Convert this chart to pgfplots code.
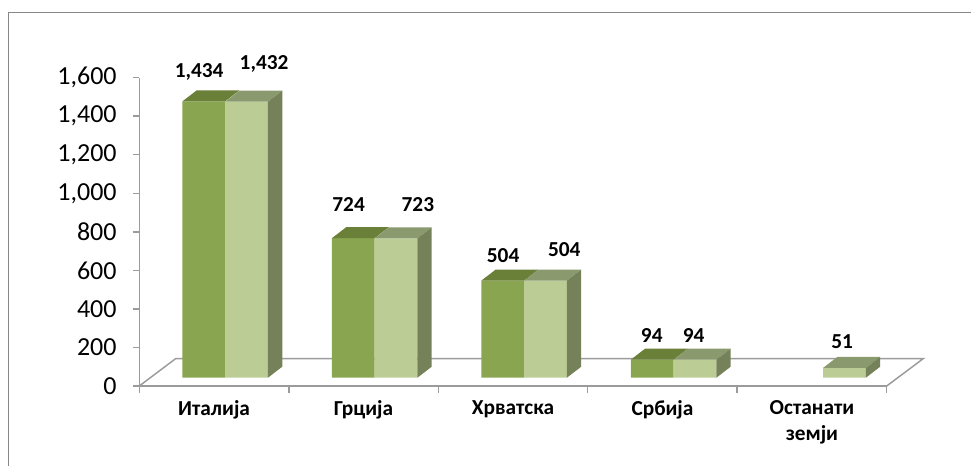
\documentclass[border=0pt]{standalone}
\usepackage{fontspec}
\setmainfont{Carlito}
\usepackage{pgfplots}
\usepackage{pgfplotstable}
\pgfplotsset{compat=1.18}

\definecolor{dfront}{RGB}{138,165,80}
\definecolor{dtop}{RGB}{106,128,56}
\definecolor{lfront}{RGB}{188,204,149}
\definecolor{ltop}{RGB}{139,154,110}
\definecolor{lside}{RGB}{117,130,89}
\definecolor{axgray}{RGB}{155,155,155}
\definecolor{framegray}{RGB}{135,135,135}

% top face of a dark bar (mark sits at the front top of the bar centre)
\pgfdeclareplotmark{darktop}{%
  \pgfsetfillcolor{dtop}%
  \pgfpathmoveto{\pgfpoint{-31.61pt}{0pt}}%
  \pgfpathlineto{\pgfpoint{0.45pt}{0pt}}%
  \pgfpathlineto{\pgfpoint{11.15pt}{8.25pt}}%
  \pgfpathlineto{\pgfpoint{-20.91pt}{8.25pt}}%
  \pgfpathclose\pgfusepath{fill}%
}
% top and side faces of a light bar; \val = bar value
\pgfdeclareplotmark{lighttop}{%
  \pgfmathsetmacro\hh{-\val*0.1445625}%
  \pgfmathsetmacro\hb{8.25-\val*0.1445625}%
  \pgfsetfillcolor{ltop}%
  \pgfpathmoveto{\pgfpoint{0.45pt}{0pt}}%
  \pgfpathlineto{\pgfpoint{32.51pt}{0pt}}%
  \pgfpathlineto{\pgfpoint{43.21pt}{8.25pt}}%
  \pgfpathlineto{\pgfpoint{11.15pt}{8.25pt}}%
  \pgfpathclose\pgfusepath{fill}%
  \pgfsetfillcolor{lside}%
  \pgfpathmoveto{\pgfpoint{32.51pt}{0pt}}%
  \pgfpathlineto{\pgfpoint{43.21pt}{8.25pt}}%
  \pgfpathlineto{\pgfpoint{43.21pt}{\hb pt}}%
  \pgfpathlineto{\pgfpoint{32.51pt}{\hh pt}}%
  \pgfpathclose\pgfusepath{fill}%
}

% x = category, v = value, lx/ly = label offset in px
\pgfplotstableread{
x v lx ly
0 1434 -4.7 31
1 724 -4.7 33.5
2 504 0.3 25.2
3 94 -0.5 24
}\darkdata
\pgfplotstableread{
x v lx ly
0 1432 17.5 38.7
1 723 21.8 33.6
2 504 18.7 31.3
3 94 -1.4 24
4 51 -2.3 26
}\lightdata

\begin{document}
\begin{tikzpicture}
\useasboundingbox (0,0) rectangle (728.25pt,349.5pt);
\draw[framegray, line width=1pt] (6.2pt,-20pt) -- (6.2pt,340.3pt) -- (760pt,340.3pt);

\pgfplotsset{
  /pgf/number format/1000 sep={,},
  /pgf/number format/assume math mode=true,
}

% main (front plane) axis with floor, ticks and labels
\begin{axis}[
  at={(104.475pt,60pt)}, anchor=south west,
  scale only axis, width=560.55pt, height=231.3pt,
  xmin=-0.5, xmax=4.5, ymin=0, ymax=1600,
  axis x line*=bottom, axis y line*=left,
  axis line style={draw=axgray, line width=1.1pt},
  tick style={draw=axgray, line width=1.1pt},
  tick align=outside,
  major tick length=5pt,
  xtick={-0.5,0.5,1.5,2.5,3.5,4.5},
  x tick label as interval,
  xticklabels={Италија,Грција,Хрватска,Србија,{Останати\\земји},{}},
  xticklabel style={font=\bfseries\fontsize{16}{19.5}\selectfont, align=center, text=black, yshift=-2.5pt},
  ytick={0,200,...,1600},
  yticklabel style={font=\fontsize{19.5}{22}\selectfont, text=black, xshift=-8.5pt},
  clip=false,
]
\draw[axgray, line width=1.1pt] (axis cs:-0.5,0) -- ++(27.3pt,20.55pt)
   -- ([shift={(27.45pt,20.55pt)}]axis cs:4.5,0) -- (axis cs:4.5,0);
\end{axis}

% bar plane axis (shifted back in depth)
\begin{axis}[
  at={(112.425pt,66.225pt)}, anchor=south west,
  scale only axis, width=560.55pt, height=231.3pt,
  xmin=-0.5, xmax=4.5, ymin=0, ymax=1600,
  hide axis, clip=false,
  every node near coord/.append style={font=\bfseries\fontsize{16}{18}\selectfont, text=black, anchor=center, text depth=0pt},
]
% dark series
\addplot[ybar, bar width=0.286, bar shift=-0.139, fill=dfront, draw=none] table[x=x,y=v]{\darkdata};
\addplot[only marks, mark=darktop, mark options={draw=none},
  point meta=explicit,
  visualization depends on={\thisrow{lx}\as\lx},
  visualization depends on={\thisrow{ly}\as\ly},
  nodes near coords={\pgfmathprintnumber{\pgfplotspointmeta}},
  nodes near coords style={xshift={(\lx-20.78)*0.75pt}, yshift={\ly*0.75pt}},
] table[x=x,y=v,meta=v]{\darkdata};
% light series
\addplot[ybar, bar width=0.286, bar shift=0.147, fill=lfront, draw=none] table[x=x,y=v]{\lightdata};
\addplot[only marks, mark=lighttop, mark options={draw=none},
  point meta=explicit,
  visualization depends on={\thisrow{v}\as\val},
  visualization depends on={\thisrow{lx}\as\lx},
  visualization depends on={\thisrow{ly}\as\ly},
  nodes near coords={\pgfmathprintnumber{\pgfplotspointmeta}},
  nodes near coords style={xshift={(\lx+21.97)*0.75pt}, yshift={\ly*0.75pt}},
] table[x=x,y=v,meta=v]{\lightdata};
\end{axis}
\end{tikzpicture}
\end{document}
